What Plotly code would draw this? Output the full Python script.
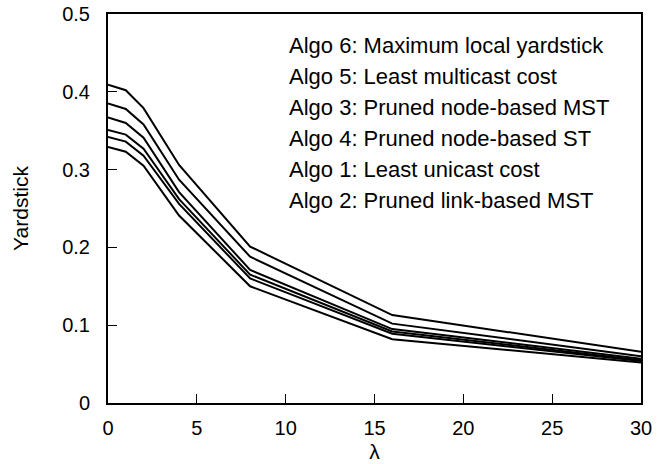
import plotly.graph_objects as go

lam = [0, 1, 2, 4, 8, 16, 30]

algo_names = [
    "Algo 6: Maximum local yardstick",
    "Algo 5: Least multicast cost",
    "Algo 3: Pruned node-based MST",
    "Algo 4: Pruned node-based ST",
    "Algo 1: Least unicast cost",
    "Algo 2: Pruned link-based MST",
]

algo6 = [0.409, 0.402, 0.379, 0.306, 0.201, 0.113, 0.066]
algo5 = [0.385, 0.378, 0.358, 0.287, 0.188, 0.102, 0.060]
algo3 = [0.367, 0.360, 0.341, 0.271, 0.171, 0.095, 0.057]
algo4 = [0.351, 0.345, 0.327, 0.262, 0.165, 0.092, 0.055]
algo1 = [0.342, 0.336, 0.318, 0.256, 0.160, 0.089, 0.054]
algo2 = [0.329, 0.323, 0.305, 0.241, 0.150, 0.082, 0.052]

series = [algo6, algo5, algo3, algo4, algo1, algo2]

FONT = "Liberation Sans, Arial, sans-serif"

fig = go.Figure()
for name, ys in zip(algo_names, series):
    fig.add_trace(go.Scatter(x=lam, y=ys, mode="lines", name=name,
                             line=dict(color="black", width=2),
                             showlegend=False))

# legend is plain text only (no line samples)
for i, name in enumerate(algo_names):
    fig.add_annotation(text=name, xref="paper", yref="paper",
                       x=0.336, y=0.920 - i * 0.0797,
                       xanchor="left", yanchor="middle", showarrow=False,
                       font=dict(size=22, color="black", family=FONT))

fig.update_layout(
    width=662, height=464,
    margin=dict(l=108, r=21, t=14, b=61),
    paper_bgcolor="white", plot_bgcolor="white",
    font=dict(family=FONT, size=20, color="black"),
)

fig.update_xaxes(range=[0, 30], tickvals=[0, 5, 10, 15, 20, 25, 30],
                 ticks="inside", ticklen=9, tickwidth=1, tickcolor="black",
                 showline=True, linecolor="black", linewidth=2, mirror=True,
                 showgrid=False, zeroline=False, ticklabelstandoff=6,
                 automargin=False,
                 title=dict(text="λ", standoff=6, font=dict(size=21)))
fig.update_yaxes(range=[0, 0.5], tickvals=[0, 0.1, 0.2, 0.3, 0.4, 0.5],
                 ticktext=["0", "0.1", "0.2", "0.3", "0.4", "0.5"],
                 ticks="inside", ticklen=9, tickwidth=1, tickcolor="black",
                 showline=True, linecolor="black", linewidth=2, mirror=True,
                 showgrid=False, zeroline=False, ticklabelstandoff=12,
                 automargin=False,
                 title=dict(text="Yardstick", standoff=28, font=dict(size=21)))

# drop the browser's default body margin so the figure sits at the page corner
fig.write_html("out.html", config={"displayModeBar": False},
               post_script="document.body.style.margin='0';")
